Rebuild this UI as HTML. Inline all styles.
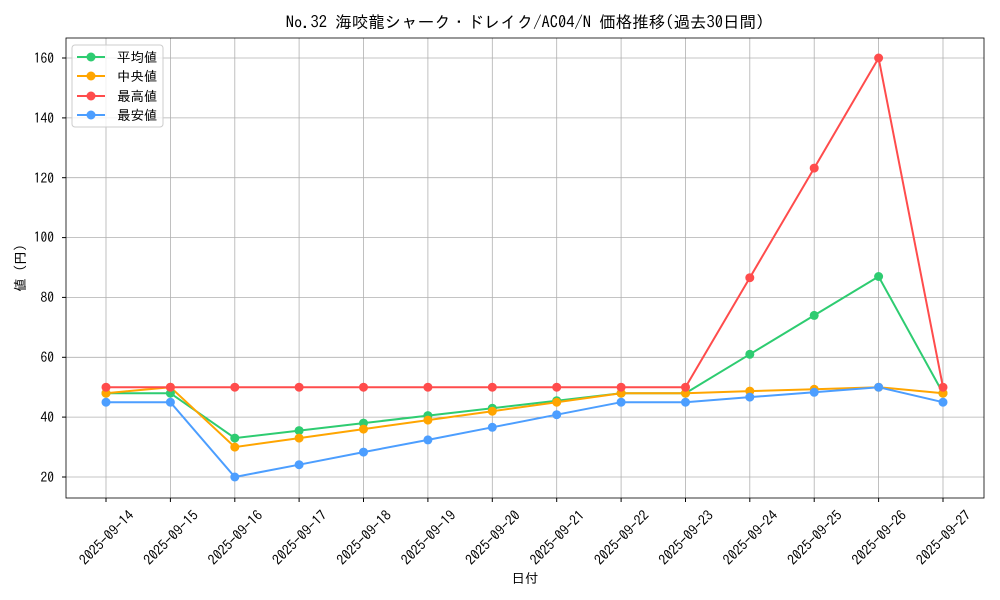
<!DOCTYPE html>
<html><head><meta charset="utf-8"><style>
body{margin:0;background:#fff;}
svg{display:block;font-family:"IPAGothic","Liberation Mono","Noto Sans CJK JP",monospace;}
</style></head><body>
<svg width="1000" height="600" viewBox="0 0 1000 600" xmlns="http://www.w3.org/2000/svg">
<rect width="1000" height="600" fill="#fff"/>
<text x="525" y="28" font-size="16.5" text-anchor="middle" fill="#000">No.32 海咬龍シャーク・ドレイク/AC04/N 価格推移(過去30日間)</text>
<g stroke="#b0b0b0" stroke-width="0.8">
<line x1="106" y1="38" x2="106" y2="498"/><line x1="170.4" y1="38" x2="170.4" y2="498"/><line x1="234.8" y1="38" x2="234.8" y2="498"/><line x1="299.1" y1="38" x2="299.1" y2="498"/><line x1="363.5" y1="38" x2="363.5" y2="498"/><line x1="427.9" y1="38" x2="427.9" y2="498"/><line x1="492.3" y1="38" x2="492.3" y2="498"/><line x1="556.7" y1="38" x2="556.7" y2="498"/><line x1="621.1" y1="38" x2="621.1" y2="498"/><line x1="685.5" y1="38" x2="685.5" y2="498"/><line x1="749.8" y1="38" x2="749.8" y2="498"/><line x1="814.2" y1="38" x2="814.2" y2="498"/><line x1="878.6" y1="38" x2="878.6" y2="498"/><line x1="943" y1="38" x2="943" y2="498"/>
<line x1="66" y1="477" x2="984" y2="477"/><line x1="66" y1="417.1" x2="984" y2="417.1"/><line x1="66" y1="357.3" x2="984" y2="357.3"/><line x1="66" y1="297.4" x2="984" y2="297.4"/><line x1="66" y1="237.6" x2="984" y2="237.6"/><line x1="66" y1="177.7" x2="984" y2="177.7"/><line x1="66" y1="117.9" x2="984" y2="117.9"/><line x1="66" y1="58" x2="984" y2="58"/>
</g>
<rect x="66" y="38" width="918" height="460" fill="none" stroke="#000" stroke-width="0.8"/>
<g font-size="13.5" text-anchor="end" fill="#000">
<text x="54" y="482">20</text><text x="54" y="422">40</text><text x="54" y="362">60</text><text x="54" y="302">80</text><text x="54" y="242">100</text><text x="54" y="183">120</text><text x="54" y="123">140</text><text x="54" y="63">160</text>
</g>
<g stroke="#000"><line x1="62" y1="477" x2="66" y2="477"/><line x1="62" y1="417.1" x2="66" y2="417.1"/><line x1="62" y1="357.3" x2="66" y2="357.3"/><line x1="62" y1="297.4" x2="66" y2="297.4"/><line x1="62" y1="237.6" x2="66" y2="237.6"/><line x1="62" y1="177.7" x2="66" y2="177.7"/><line x1="62" y1="117.9" x2="66" y2="117.9"/><line x1="62" y1="58" x2="66" y2="58"/>
<line x1="106" y1="498" x2="106" y2="502"/><line x1="170.4" y1="498" x2="170.4" y2="502"/><line x1="234.8" y1="498" x2="234.8" y2="502"/><line x1="299.1" y1="498" x2="299.1" y2="502"/><line x1="363.5" y1="498" x2="363.5" y2="502"/><line x1="427.9" y1="498" x2="427.9" y2="502"/><line x1="492.3" y1="498" x2="492.3" y2="502"/><line x1="556.7" y1="498" x2="556.7" y2="502"/><line x1="621.1" y1="498" x2="621.1" y2="502"/><line x1="685.5" y1="498" x2="685.5" y2="502"/><line x1="749.8" y1="498" x2="749.8" y2="502"/><line x1="814.2" y1="498" x2="814.2" y2="502"/><line x1="878.6" y1="498" x2="878.6" y2="502"/><line x1="943" y1="498" x2="943" y2="502"/></g>
<g font-size="14" text-anchor="middle" fill="#000">
<text transform="translate(110,541) rotate(-45)">2025-09-14</text><text transform="translate(174.4,541) rotate(-45)">2025-09-15</text><text transform="translate(238.8,541) rotate(-45)">2025-09-16</text><text transform="translate(303.1,541) rotate(-45)">2025-09-17</text><text transform="translate(367.5,541) rotate(-45)">2025-09-18</text><text transform="translate(431.9,541) rotate(-45)">2025-09-19</text><text transform="translate(496.3,541) rotate(-45)">2025-09-20</text><text transform="translate(560.7,541) rotate(-45)">2025-09-21</text><text transform="translate(625.1,541) rotate(-45)">2025-09-22</text><text transform="translate(689.5,541) rotate(-45)">2025-09-23</text><text transform="translate(753.8,541) rotate(-45)">2025-09-24</text><text transform="translate(818.2,541) rotate(-45)">2025-09-25</text><text transform="translate(882.6,541) rotate(-45)">2025-09-26</text><text transform="translate(947,541) rotate(-45)">2025-09-27</text>
</g>
<text x="525" y="583" font-size="13.5" text-anchor="middle">日付</text>
<text transform="translate(25,268) rotate(-90)" font-size="13.5" text-anchor="middle">値 (円)</text>
<g fill="none" stroke-width="2">
<polyline stroke="#2ecc71" points="106,393.2 170.4,393.2 234.8,438.1 299.1,430.6 363.5,423.1 427.9,415.6 492.3,408.2 556.7,400.7 621.1,393.2 685.5,393.2 749.8,354.3 814.2,315.4 878.6,276.5 943,393.2"/>
<polyline stroke="#ffa500" points="106,393.2 170.4,387.2 234.8,447.1 299.1,438.1 363.5,429.1 427.9,420.1 492.3,411.2 556.7,402.2 621.1,393.2 685.5,393.2 749.8,391.1 814.2,389.3 878.6,387.2 943,393.2"/>
<polyline stroke="#ff4c4c" points="106,387.2 170.4,387.2 234.8,387.2 299.1,387.2 363.5,387.2 427.9,387.2 492.3,387.2 556.7,387.2 621.1,387.2 685.5,387.2 749.8,277.7 814.2,168.1 878.6,58 943,387.2"/>
<polyline stroke="#4c9eff" points="106,402.2 170.4,402.2 234.8,477 299.1,464.7 363.5,452.1 427.9,439.9 492.3,427.3 556.7,414.7 621.1,402.2 685.5,402.2 749.8,397.1 814.2,392.3 878.6,387.2 943,402.2"/>
</g>
<g fill="#2ecc71"><circle cx="106" cy="393.2" r="4.5"/><circle cx="170.4" cy="393.2" r="4.5"/><circle cx="234.8" cy="438.1" r="4.5"/><circle cx="299.1" cy="430.6" r="4.5"/><circle cx="363.5" cy="423.1" r="4.5"/><circle cx="427.9" cy="415.6" r="4.5"/><circle cx="492.3" cy="408.2" r="4.5"/><circle cx="556.7" cy="400.7" r="4.5"/><circle cx="621.1" cy="393.2" r="4.5"/><circle cx="685.5" cy="393.2" r="4.5"/><circle cx="749.8" cy="354.3" r="4.5"/><circle cx="814.2" cy="315.4" r="4.5"/><circle cx="878.6" cy="276.5" r="4.5"/><circle cx="943" cy="393.2" r="4.5"/></g>
<g fill="#ffa500"><circle cx="106" cy="393.2" r="4.5"/><circle cx="170.4" cy="387.2" r="4.5"/><circle cx="234.8" cy="447.1" r="4.5"/><circle cx="299.1" cy="438.1" r="4.5"/><circle cx="363.5" cy="429.1" r="4.5"/><circle cx="427.9" cy="420.1" r="4.5"/><circle cx="492.3" cy="411.2" r="4.5"/><circle cx="556.7" cy="402.2" r="4.5"/><circle cx="621.1" cy="393.2" r="4.5"/><circle cx="685.5" cy="393.2" r="4.5"/><circle cx="749.8" cy="391.1" r="4.5"/><circle cx="814.2" cy="389.3" r="4.5"/><circle cx="878.6" cy="387.2" r="4.5"/><circle cx="943" cy="393.2" r="4.5"/></g>
<g fill="#ff4c4c"><circle cx="106" cy="387.2" r="4.5"/><circle cx="170.4" cy="387.2" r="4.5"/><circle cx="234.8" cy="387.2" r="4.5"/><circle cx="299.1" cy="387.2" r="4.5"/><circle cx="363.5" cy="387.2" r="4.5"/><circle cx="427.9" cy="387.2" r="4.5"/><circle cx="492.3" cy="387.2" r="4.5"/><circle cx="556.7" cy="387.2" r="4.5"/><circle cx="621.1" cy="387.2" r="4.5"/><circle cx="685.5" cy="387.2" r="4.5"/><circle cx="749.8" cy="277.7" r="4.5"/><circle cx="814.2" cy="168.1" r="4.5"/><circle cx="878.6" cy="58" r="4.5"/><circle cx="943" cy="387.2" r="4.5"/></g>
<g fill="#4c9eff"><circle cx="106" cy="402.2" r="4.5"/><circle cx="170.4" cy="402.2" r="4.5"/><circle cx="234.8" cy="477" r="4.5"/><circle cx="299.1" cy="464.7" r="4.5"/><circle cx="363.5" cy="452.1" r="4.5"/><circle cx="427.9" cy="439.9" r="4.5"/><circle cx="492.3" cy="427.3" r="4.5"/><circle cx="556.7" cy="414.7" r="4.5"/><circle cx="621.1" cy="402.2" r="4.5"/><circle cx="685.5" cy="402.2" r="4.5"/><circle cx="749.8" cy="397.1" r="4.5"/><circle cx="814.2" cy="392.3" r="4.5"/><circle cx="878.6" cy="387.2" r="4.5"/><circle cx="943" cy="402.2" r="4.5"/></g>
<rect x="72" y="45" width="91" height="82" rx="3" fill="#fff" fill-opacity="0.8" stroke="#ccc"/>
<g stroke-width="2"><line x1="77" y1="57" x2="105" y2="57" stroke="#2ecc71"/><line x1="77" y1="76" x2="105" y2="76" stroke="#ffa500"/><line x1="77" y1="96" x2="105" y2="96" stroke="#ff4c4c"/><line x1="77" y1="115" x2="105" y2="115" stroke="#4c9eff"/></g>
<circle cx="91" cy="57" r="4.5" fill="#2ecc71"/><circle cx="91" cy="76" r="4.5" fill="#ffa500"/><circle cx="91" cy="96" r="4.5" fill="#ff4c4c"/><circle cx="91" cy="115" r="4.5" fill="#4c9eff"/>
<g font-size="13.5"><text x="117" y="62">平均値</text><text x="117" y="81">中央値</text><text x="117" y="101">最高値</text><text x="117" y="120">最安値</text></g>
</svg>
</body></html>
